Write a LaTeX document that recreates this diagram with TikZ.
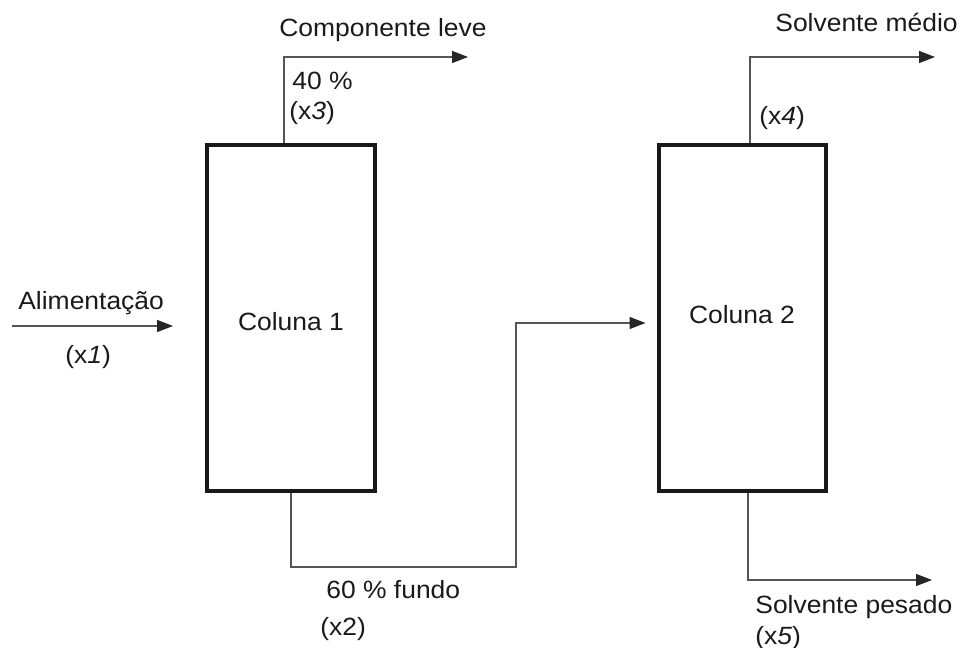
\documentclass[tikz,border=0pt]{standalone}
\usepackage{fontspec}
\setmainfont{Liberation Sans}[FakeStretch=1.06]
\usetikzlibrary{arrows.meta}

\definecolor{linegray}{HTML}{555555}
\definecolor{textdark}{HTML}{1A1A1A}

\tikzset{
    column/.style={draw=black!90, line width=0.08cm, minimum width=3.36cm, minimum height=6.92cm, inner sep=0pt},
    flow/.style={draw=linegray, line width=0.8pt, -{Triangle[length=0.32cm, width=0.24cm, color=black!85]}},
    lbl/.style={anchor=base west, inner sep=0pt, text=textdark, font=\fontsize{14.2}{17}\selectfont}
}

\begin{document}
\begin{tikzpicture}[x=0.02cm, y=-0.02cm]
    \useasboundingbox (0,0) rectangle (966,648);

    % The two columns
    \node[column] (col1) at (291, 318) {};
    \node[column] (col2) at (742.5, 318) {};
    \node[lbl, anchor=base] (name1) at (291, 331) {Coluna 1};
    \node[lbl, anchor=base] (name2) at (742, 323) {Coluna 2};

    % Free ends of the streams
    \coordinate (feedin) at (12, 326);
    \coordinate (lighttip) at (468, 57);
    \coordinate (bend1) at (516, 567);
    \coordinate (midtip) at (935, 57);
    \coordinate (heavytip) at (932, 580);

    % Feed into column 1
    \draw[flow, shorten >=0.64cm] (feedin) -- (feedin -| col1.west);
    \node[lbl] (feedname) at (18, 310) {Alimentação};
    \node[lbl] (x1) at (65, 363) {(x\textit{1})};

    % Light component off the top of column 1
    \draw[flow] ([xshift=-0.14cm]col1.north) |- (lighttip);
    \node[lbl] (lightname) at (279, 37) {Componente leve};
    \node[lbl] (pct40) at (292, 90) {40 \%};
    \node[lbl] (x3) at (289, 120) {(x\textit{3})};

    % Bottoms of column 1 fed to column 2
    \draw[flow, shorten >=0.22cm] (col1.south) |- (bend1) |- ([yshift=-0.1cm]col2.west);
    \node[lbl] (bottomname) at (326, 598) {60 \% fundo};
    \node[lbl] (x2) at (320, 635) {(x2)};

    % Products of column 2
    \draw[flow] ([xshift=0.15cm]col2.north) |- (midtip);
    \node[lbl] (midname) at (775, 32) {Solvente médio};
    \node[lbl] (x4) at (759, 125) {(x\textit{4})};

    \draw[flow] ([xshift=0.11cm]col2.south) |- (heavytip);
    \node[lbl] (heavyname) at (755, 613) {Solvente pesado};
    \node[lbl] (x5) at (755, 644) {(x\textit{5})};
\end{tikzpicture}
\end{document}
